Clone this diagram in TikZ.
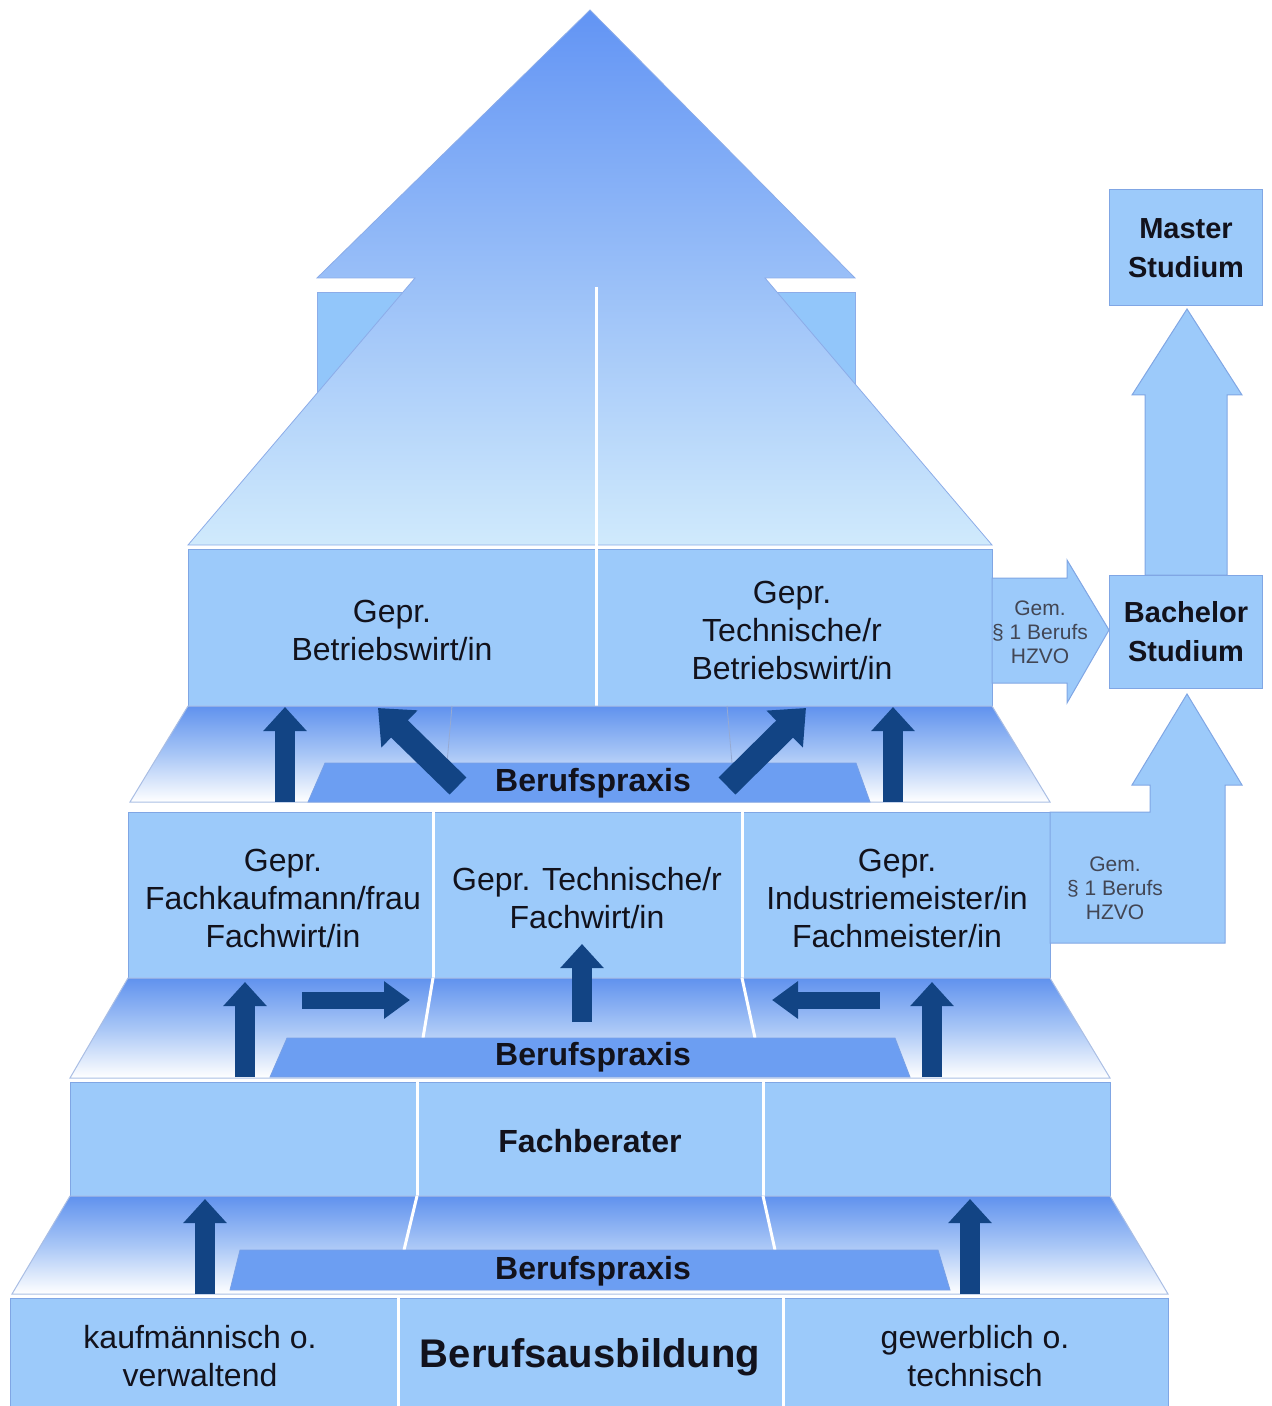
\documentclass[tikz,border=0pt]{standalone}
\usepackage{fontspec}
\setmainfont{Liberation Sans}
\usetikzlibrary{arrows.meta}
\definecolor{boxblue}{RGB}{156,202,250}
\definecolor{boxline}{RGB}{128,166,228}
\definecolor{shoulder}{RGB}{146,198,250}
\definecolor{roofTop}{RGB}{98,148,244}
\definecolor{roofBot}{RGB}{208,234,252}
\definecolor{roofline}{RGB}{140,172,232}
\definecolor{bandTop}{RGB}{96,146,238}
\definecolor{bandMid}{RGB}{168,198,246}
\definecolor{bandline}{RGB}{170,190,228}
\definecolor{praxis}{RGB}{108,158,242}
\definecolor{praxisline}{RGB}{120,160,230}
\definecolor{navy}{RGB}{18,68,132}
\definecolor{txt}{RGB}{18,18,28}
\definecolor{gemtxt}{RGB}{66,70,84}
\definecolor{faint}{RGB}{150,170,210}
\begin{document}
\begin{tikzpicture}[x=0.5pt,y=-0.5pt,
  tier/.style={fill=boxblue, draw=boxline, line width=0.5pt},
  band/.style={top color=bandTop, bottom color=white, middle color=bandMid, draw=bandline, line width=0.5pt},
  praxisbar/.style={fill=praxis, draw=praxisline, line width=0.4pt},
  divider/.style={draw=white, line width=1.5pt},
  upar/.style={draw=navy, line width=10pt, -{Triangle[length=12pt,width=21pt]}},
  sidear/.style={draw=navy, line width=8.5pt, -{Triangle[length=13pt,width=18pt]}},
  diagar/.style={draw=navy, line width=12pt, -{Triangle[length=15pt,width=25pt]}},
  lbl/.style={font=\fontsize{16}{19}\selectfont, align=center, text=txt},
  boldlbl/.style={font=\fontsize{16}{19}\selectfont\bfseries, text=txt},
  gemlbl/.style={font=\fontsize{10.5}{12}\selectfont, align=center, text=gemtxt},
  studlbl/.style={font=\fontsize{14.5}{19.5}\selectfont\bfseries, align=center, text=txt},
  blockar/.style={fill=boxblue, draw=boxline, line width=0.5pt}
]
\useasboundingbox (0,0) rectangle (1272,1406);

% ---- roof ----
\fill[shoulder, draw=roofline, line width=0.4pt] (317,292) rectangle (855,420);
\shade[top color=roofTop, bottom color=roofBot, draw=roofline, line width=0.4pt]
  (590,10) -- (855,278) -- (765,278) -- (992,545) -- (188,545) -- (415,278) -- (317,278) -- cycle;
\draw[divider] (596,287) -- (596,706);

% ---- top tier ----
\path[tier] (188,549) rectangle (596,706);
\path[tier] (596,549) rectangle (992,706);
\draw[divider] (596,549) -- (596,706);
\node[lbl] (betriebswirt) at (392,630) {Gepr.\\Betriebswirt/in};
\node[lbl] (techbetriebswirt) at (792,630) {Gepr.\\Technische/r\\Betriebswirt/in};

% ---- band 3 ----
\path[band] (188,706) -- (992,706) -- (1050,802) -- (130,802) -- cycle;
\draw[faint, line width=0.4pt] (452,706) -- (447,763);
\draw[faint, line width=0.4pt] (727,706) -- (732,763);
\path[praxisbar] (325,763) -- (856,763) -- (870,802) -- (308,802) -- cycle;
\node[boldlbl] (praxis3) at (593,783) {Berufspraxis};

% ---- middle tier ----
\path[tier] (128,812) rectangle (1050,978);
\draw[divider] (433,812) -- (433,978);
\draw[divider] (742,812) -- (742,978);
\node[lbl] (fachkaufmann) at (283,898) {Gepr.\\Fachkaufmann/frau\\Fachwirt/in};
\node[lbl] (techfachwirt) at (587,898) {Gepr. Technische/r\\Fachwirt/in};
\node[lbl] (industriemeister) at (897,898) {Gepr.\\Industriemeister/in\\Fachmeister/in};

% ---- band 2 ----
\path[band] (128,978) -- (1050,978) -- (1110,1078) -- (70,1078) -- cycle;
\draw[divider] (433,978) -- (423,1038);
\draw[divider] (742,978) -- (755,1038);
\path[praxisbar] (287,1038) -- (895,1038) -- (910,1077) -- (270,1077) -- cycle;
\node[boldlbl] (praxis2) at (593,1057) {Berufspraxis};

% ---- Fachberater tier ----
\path[tier] (70,1082) rectangle (1110,1196);
\draw[divider] (417,1082) -- (417,1196);
\draw[divider] (763,1082) -- (763,1196);
\node[boldlbl] (fachberater) at (590,1141) {Fachberater};

% ---- band 1 ----
\path[band] (70,1196) -- (1110,1196) -- (1168,1294) -- (12,1294) -- cycle;
\draw[divider] (417,1196) -- (404,1250);
\draw[divider] (763,1196) -- (775,1250);
\path[praxisbar] (240,1250) -- (938,1250) -- (950,1290) -- (230,1290) -- cycle;
\node[boldlbl] (praxis1) at (593,1271) {Berufspraxis};

% ---- bottom tier ----
\path[tier] (10,1298) rectangle (1168,1410);
\draw[divider] (398,1298) -- (398,1406);
\draw[divider] (783,1298) -- (783,1406);
\node[lbl] (kaufm) at (200,1356) {kaufmännisch o.\\verwaltend};
\node[font=\fontsize{20}{24}\selectfont\bfseries, text=txt] (ausbildung) at (590,1357) {Berufsausbildung};
\node[lbl] (gewerbl) at (975,1356) {gewerblich o.\\technisch};

% ---- navy arrows ----
\coordinate (b3a1s) at (285,802); \coordinate (b3a1e) at (285,707);
\coordinate (b3a2s) at (458,786); \coordinate (b3a2e) at (378,708);
\coordinate (b3a3s) at (727,786); \coordinate (b3a3e) at (806,708);
\coordinate (b3a4s) at (893,802); \coordinate (b3a4e) at (893,707);
\draw[upar] (b3a1s) -- (b3a1e);
\draw[diagar] (b3a2s) -- (b3a2e);
\draw[diagar] (b3a3s) -- (b3a3e);
\draw[upar] (b3a4s) -- (b3a4e);

\coordinate (b2a1s) at (245,1077); \coordinate (b2a1e) at (245,982);
\coordinate (b2a2s) at (302,1000); \coordinate (b2a2e) at (410,1000);
\coordinate (b2a3s) at (582,1022); \coordinate (b2a3e) at (582,944);
\coordinate (b2a4s) at (880,1000); \coordinate (b2a4e) at (772,1000);
\coordinate (b2a5s) at (932,1077); \coordinate (b2a5e) at (932,982);
\draw[upar] (b2a1s) -- (b2a1e);
\draw[sidear] (b2a2s) -- (b2a2e);
\draw[upar] (b2a3s) -- (b2a3e);
\draw[sidear] (b2a4s) -- (b2a4e);
\draw[upar] (b2a5s) -- (b2a5e);

\coordinate (b1a1s) at (205,1294); \coordinate (b1a1e) at (205,1199);
\coordinate (b1a2s) at (970,1294); \coordinate (b1a2e) at (970,1199);
\draw[upar] (b1a1s) -- (b1a1e);
\draw[upar] (b1a2s) -- (b1a2e);

% ---- right side ----
\path[blockar] (992,578) -- (1067,578) -- (1067,560) -- (1109,630) -- (1067,703) -- (1067,683) -- (992,683) -- cycle;
\node[gemlbl] (gem1) at (1040,632) {Gem.\\§ 1 Berufs\\HZVO};
\path[blockar] (1050,812) -- (1150,812) -- (1150,785) -- (1132,785) -- (1187,694) -- (1242,785) -- (1225,785) -- (1225,943) -- (1050,943) -- cycle;
\node[gemlbl] (gem2) at (1115,888) {Gem.\\§ 1 Berufs\\HZVO};
\path[blockar] (1145,575) -- (1145,395) -- (1132,395) -- (1187,309) -- (1242,395) -- (1227,395) -- (1227,575) -- cycle;
\path[tier] (1109,575) rectangle (1262,688);
\node[studlbl] (bachelor) at (1186,632) {Bachelor\\Studium};
\path[tier] (1109,190) rectangle (1262,306);
\node[studlbl] (master) at (1186,248) {Master\\Studium};
\end{tikzpicture}
\end{document}
